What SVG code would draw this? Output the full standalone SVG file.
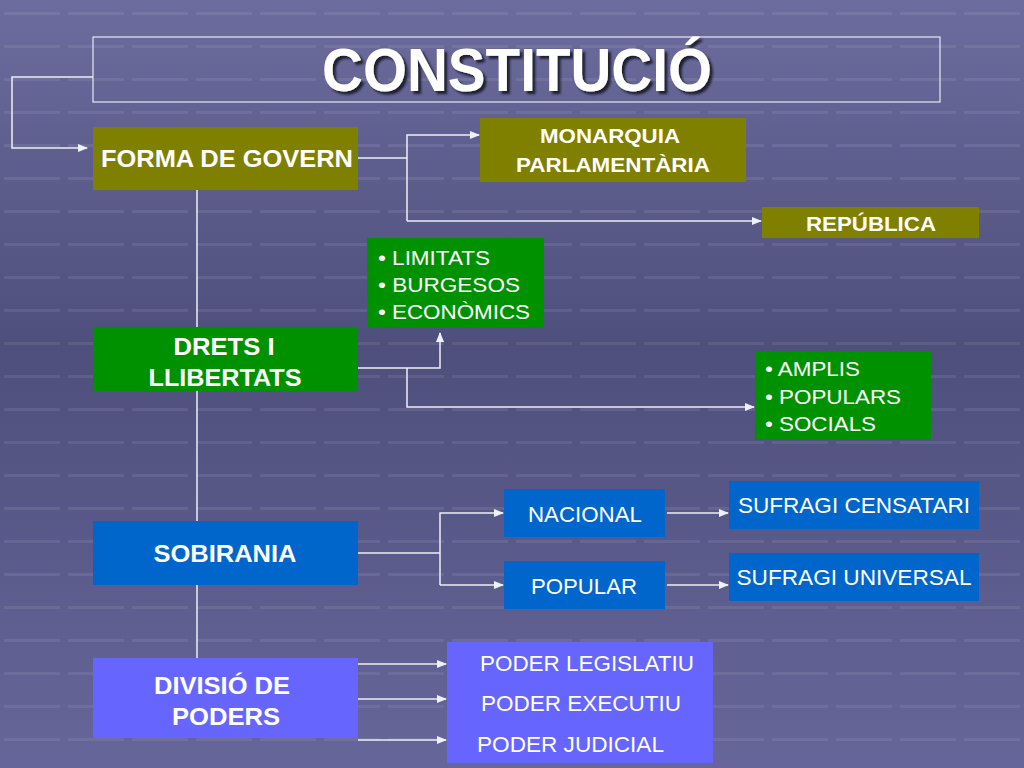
<svg xmlns="http://www.w3.org/2000/svg" width="1024" height="768" viewBox="0 0 1024 768">
<defs>
<linearGradient id="bg" x1="0" y1="0" x2="0" y2="1">
<stop offset="0" stop-color="#6c6c9e"/>
<stop offset="0.45" stop-color="#4f4f7c"/>
<stop offset="1" stop-color="#66669a"/>
</linearGradient>
<pattern id="grid" width="64" height="33" patternUnits="userSpaceOnUse" x="0" y="12">
<rect x="4" y="0" width="56" height="3" fill="#ffffff" opacity="0.08"/>
</pattern>
<filter id="shadow" x="-5%" y="-20%" width="110%" height="140%">
<feDropShadow dx="3" dy="3" stdDeviation="0.8" flood-color="#15152a" flood-opacity="0.9"/>
</filter>
<marker id="ah" markerWidth="10" markerHeight="8" refX="9" refY="4" orient="auto" markerUnits="userSpaceOnUse">
<path d="M0,0 L10,4 L0,8 Z" fill="#f0f0f8"/>
</marker>
<style>
.box{stroke:none}
.olive{fill:#808000}
.green{fill:#009100}
.blue{fill:#0066cc}
.violet{fill:#6666ff}
.tb{font-family:"Liberation Sans",Arial,sans-serif;font-weight:bold;fill:#ffffff;text-anchor:middle}
.tn{font-family:"Liberation Sans",Arial,sans-serif;fill:#ffffff}
.c{fill:none;stroke:#eeeef6;stroke-width:1.5}
</style>
</defs>
<rect width="1024" height="768" fill="url(#bg)"/>
<rect width="1024" height="768" fill="url(#grid)"/>

<g id="connectors">
<path class="c" d="M93,77 H12 V148 H87" marker-end="url(#ah)"/>
<path class="c" d="M197,190 V658"/>
<path class="c" d="M358,158 H407"/>
<path class="c" d="M407,221 V135 H479" marker-end="url(#ah)"/>
<path class="c" d="M407,221 H761" marker-end="url(#ah)"/>
<path class="c" d="M358,368 H440 V333" marker-end="url(#ah)"/>
<path class="c" d="M407,368 V407 H754" marker-end="url(#ah)"/>
<path class="c" d="M358,553 H440"/>
<path class="c" d="M440,585 V513 H503" marker-end="url(#ah)"/>
<path class="c" d="M440,585 H503" marker-end="url(#ah)"/>
<path class="c" d="M667,513 H728" marker-end="url(#ah)"/>
<path class="c" d="M667,585 H728" marker-end="url(#ah)"/>
<path class="c" d="M358,664 H446" marker-end="url(#ah)"/>
<path class="c" d="M358,699 H446" marker-end="url(#ah)"/>
<path class="c" d="M358,740 H446" marker-end="url(#ah)"/>
</g>

<g id="title">
<rect x="93" y="37" width="847" height="65" fill="none" stroke="#e8e8f0" stroke-width="1.2"/>
<text class="tb" x="517" y="91" font-size="61" textLength="390" lengthAdjust="spacingAndGlyphs" filter="url(#shadow)">CONSTITUCIÓ</text>
</g>

<g id="forma">
<rect class="box olive" x="93" y="127" width="265" height="63"/>
<text class="tb" x="227" y="167" font-size="24" textLength="252" lengthAdjust="spacingAndGlyphs">FORMA DE GOVERN</text>
</g>
<g id="monarquia">
<rect class="box olive" x="480" y="118" width="266" height="64"/>
<text class="tb" x="610" y="143" font-size="21" textLength="140" lengthAdjust="spacingAndGlyphs">MONARQUIA</text>
<text class="tb" x="613" y="172" font-size="21" textLength="194" lengthAdjust="spacingAndGlyphs">PARLAMENTÀRIA</text>
</g>
<g id="republica">
<rect class="box olive" x="762" y="207" width="217" height="31"/>
<text class="tb" x="871" y="231" font-size="21" textLength="130" lengthAdjust="spacingAndGlyphs">REPÚBLICA</text>
</g>

<g id="limitats">
<rect class="box green" x="367" y="238" width="177" height="89"/>
<text class="tn" x="378" y="265" font-size="21" textLength="112" lengthAdjust="spacingAndGlyphs">• LIMITATS</text>
<text class="tn" x="378" y="292" font-size="21" textLength="142" lengthAdjust="spacingAndGlyphs">• BURGESOS</text>
<text class="tn" x="378" y="319" font-size="21" textLength="152" lengthAdjust="spacingAndGlyphs">• ECONÒMICS</text>
</g>
<g id="drets">
<rect class="box green" x="93" y="327" width="265" height="64"/>
<text class="tb" x="224" y="355" font-size="24" textLength="101" lengthAdjust="spacingAndGlyphs">DRETS I</text>
<text class="tb" x="225" y="386" font-size="24" textLength="153" lengthAdjust="spacingAndGlyphs">LLIBERTATS</text>
</g>
<g id="amplis">
<rect class="box green" x="755" y="351" width="176" height="89"/>
<text class="tn" x="765" y="376" font-size="21" textLength="95" lengthAdjust="spacingAndGlyphs">• AMPLIS</text>
<text class="tn" x="765" y="404" font-size="21" textLength="136" lengthAdjust="spacingAndGlyphs">• POPULARS</text>
<text class="tn" x="765" y="431" font-size="21" textLength="111" lengthAdjust="spacingAndGlyphs">• SOCIALS</text>
</g>

<g id="sobirania">
<rect class="box blue" x="93" y="521" width="265" height="64"/>
<text class="tb" x="225" y="562" font-size="24" textLength="143" lengthAdjust="spacingAndGlyphs">SOBIRANIA</text>
</g>
<g id="nacional">
<rect class="box blue" x="504" y="489" width="161" height="48"/>
<text class="tn" x="585" y="522" font-size="22" text-anchor="middle" textLength="114" lengthAdjust="spacingAndGlyphs">NACIONAL</text>
</g>
<g id="popular">
<rect class="box blue" x="504" y="561" width="161" height="48"/>
<text class="tn" x="584" y="594" font-size="22" text-anchor="middle" textLength="106" lengthAdjust="spacingAndGlyphs">POPULAR</text>
</g>
<g id="censatari">
<rect class="box blue" x="729" y="481" width="250" height="48"/>
<text class="tn" x="854" y="513" font-size="22" text-anchor="middle" textLength="232" lengthAdjust="spacingAndGlyphs">SUFRAGI CENSATARI</text>
</g>
<g id="universal">
<rect class="box blue" x="729" y="553" width="250" height="48"/>
<text class="tn" x="854" y="585" font-size="22" text-anchor="middle" textLength="235" lengthAdjust="spacingAndGlyphs">SUFRAGI UNIVERSAL</text>
</g>

<g id="divisio">
<rect class="box violet" x="93" y="658" width="265" height="80"/>
<text class="tb" x="222" y="694" font-size="24" textLength="136" lengthAdjust="spacingAndGlyphs">DIVISIÓ DE</text>
<text class="tb" x="226" y="725" font-size="24" textLength="108" lengthAdjust="spacingAndGlyphs">PODERS</text>
</g>
<g id="poders">
<rect class="box violet" x="447" y="642" width="266" height="121"/>
<text class="tn" x="480" y="671" font-size="22" textLength="214" lengthAdjust="spacingAndGlyphs">PODER LEGISLATIU</text>
<text class="tn" x="481" y="711" font-size="22" textLength="200" lengthAdjust="spacingAndGlyphs">PODER EXECUTIU</text>
<text class="tn" x="477" y="752" font-size="22" textLength="187" lengthAdjust="spacingAndGlyphs">PODER JUDICIAL</text>
</g>
</svg>
